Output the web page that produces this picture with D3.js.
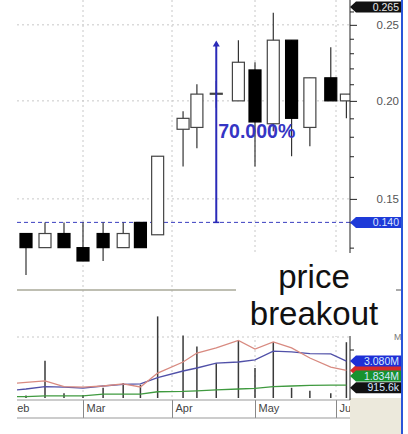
<!DOCTYPE html>
<html>
<head>
<meta charset="utf-8">
<script src="https://cdn.jsdelivr.net/npm/d3@7"></script>
<style>
  body { margin: 0; background: #fff; }
  svg { display: block; font-family: "Liberation Sans", Arial, sans-serif; }
</style>
</head>
<body>
<svg></svg>
<script>
// weekly candles
var candleDates = ['2005-02-08', '2005-02-15', '2005-02-22', '2005-03-01', '2005-03-08', '2005-03-15',
    '2005-03-21', '2005-03-27', '2005-04-05', '2005-04-10', '2005-04-17', '2005-04-25',
    '2005-05-01', '2005-05-08', '2005-05-15', '2005-05-22', '2005-05-30', '2005-06-05'];
var openP  = [0.1355, 0.130, 0.1355, 0.130, 0.1355, 0.130, 0.140, 0.135, 0.184, 0.185, 0.2045, 0.200, 0.219, 0.187, 0.239, 0.185, 0.214, 0.200];
var highP  = [0.1355, 0.140, 0.140, 0.140, 0.140, 0.140, 0.140, 0.170, 0.194, 0.210, 0.212, 0.239, 0.224, 0.259, 0.239, 0.214, 0.234, 0.204];
var lowP   = [0.120, 0.130, 0.130, 0.125, 0.125, 0.130, 0.130, 0.135, 0.165, 0.174, 0.196, 0.200, 0.165, 0.183, 0.170, 0.175, 0.200, 0.190];
var closeP = [0.130, 0.1355, 0.130, 0.125, 0.130, 0.1355, 0.130, 0.170, 0.190, 0.204, 0.2045, 0.224, 0.188, 0.239, 0.190, 0.214, 0.200, 0.204];

// volume in millions
var volume = [0.2, 3.1, 0.4, 0.25, 0.85, 1.25, 1.1, 6.8, 5.2, 4.3, 2.9, 4.75, 2.5, 4.65, 0.85, 0.6, 0.4, 4.65];

// volume averages (start one week before first candle)
var maDates = ['2005-02-01', '2005-02-08', '2005-02-15', '2005-02-22', '2005-03-01', '2005-03-08', '2005-03-15',
    '2005-03-21', '2005-03-27', '2005-04-05', '2005-04-10', '2005-04-17', '2005-04-25',
    '2005-05-01', '2005-05-08', '2005-05-15', '2005-05-22', '2005-05-30', '2005-06-05'];
var maRed   = [1.17, 1.3, 1.42, 0.94, 0.9, 1.0, 1.17, 0.92, 2.08, 3.0, 3.75, 4.17, 4.8, 4.08, 4.67, 4.17, 3.33, 2.58, 2.3];
var maBlue  = [0.6, 0.75, 0.94, 0.9, 0.83, 1.0, 1.14, 1.17, 1.7, 2.25, 2.5, 2.9, 3.0, 3.17, 3.9, 3.85, 3.7, 3.67, 3.08];
var maGreen = [0.1, 0.12, 0.17, 0.17, 0.17, 0.33, 0.33, 0.33, 0.52, 0.55, 0.6, 0.67, 0.75, 0.8, 0.95, 1.0, 1.05, 1.08, 1.08];

var monthDates  = ['2005-02-01', '2005-03-01', '2005-04-01', '2005-05-01', '2005-06-01'];
var monthLabels = ['Feb', 'Mar', 'Apr', 'May', 'Jun'];

var priceMajor = [0.15, 0.20, 0.25];
var priceMinor = [0.13, 0.14, 0.16, 0.17, 0.18, 0.19, 0.21, 0.22, 0.23, 0.24, 0.26];
var lastHigh = 0.265;
var breakoutLevel = 0.140;
var targetLevel = 0.238;
var breakoutDate = '2005-04-17';
var gainText = '70.000%';

// red marker has its text hidden behind the others, so it gets none
var volLabelText  = ['', '915.6k', '1.834M', '3.080M'];
var volLabelValue = [2.30, 0.86, 1.834, 3.08];
var volLabelColor = ['#d42a2a', '#111111', '#17922e', '#1e2fd6'];

var parse = d3.timeParse('%Y-%m-%d');

var svg = d3.select('svg').attr('width', 408).attr('height', 434);
var plotLeft = 17, plotRight = 350;

var x = d3.scaleTime()
    .domain([parse('2005-02-01'), parse('2005-03-01'), parse('2005-04-01'), parse('2005-05-01'), parse('2005-06-01'), parse('2005-07-01')])
    .range([7, 83, 172, 255, 336, 414]);
var y = d3.scaleLog().domain([0.1148, 0.2689]).range([290, 0]);
var yv = d3.scaleLinear().domain([0, 5]).range([398, 338]);

svg.append('rect').attr('width', 408).attr('height', 434).attr('fill', '#fff');

svg.append('clipPath').attr('id', 'plotclip')
    .append('rect').attr('x', plotLeft).attr('y', 0).attr('width', plotRight - plotLeft).attr('height', 434);

var plot = svg.append('g').attr('clip-path', 'url(#plotclip)');

// grid
plot.selectAll('.vgrid')
    .data(monthDates.slice(1))
    .enter().append('line')
    .attr('x1', d => x(parse(d))).attr('x2', d => x(parse(d)))
    .attr('y1', 0).attr('y2', 400)
    .attr('stroke', '#c8c8c8').attr('stroke-dasharray', '2,3');

plot.selectAll('.hgrid')
    .data(priceMajor)
    .enter().append('line')
    .attr('x1', plotLeft).attr('x2', plotRight)
    .attr('y1', d => y(d)).attr('y2', d => y(d))
    .attr('stroke', '#c8c8c8').attr('stroke-dasharray', '2,3');

plot.append('line')
    .attr('x1', plotLeft).attr('x2', plotRight)
    .attr('y1', yv(5) - 1).attr('y2', yv(5) - 1)
    .attr('stroke', '#c8c8c8').attr('stroke-dasharray', '2,3');

// breakout level
plot.append('line')
    .attr('x1', plotLeft).attr('x2', plotRight)
    .attr('y1', y(breakoutLevel)).attr('y2', y(breakoutLevel))
    .attr('stroke', '#3a3ec0').attr('stroke-dasharray', '4,3');

// candles
var candles = candleDates.map((d, i) => ({date: parse(d), o: openP[i], h: highP[i], l: lowP[i], c: closeP[i]}));

plot.selectAll('.wick')
    .data(candles)
    .enter().append('line')
    .attr('x1', d => x(d.date)).attr('x2', d => x(d.date))
    .attr('y1', d => y(d.h)).attr('y2', d => y(d.l))
    .attr('stroke', '#333').attr('stroke-width', 1.2);

plot.selectAll('.body')
    .data(candles)
    .enter().append('rect')
    .attr('x', d => x(d.date) - 6)
    .attr('width', 12)
    .attr('y', d => y(Math.max(d.o, d.c)))
    .attr('height', d => Math.max(1, y(Math.min(d.o, d.c)) - y(Math.max(d.o, d.c))))
    .attr('fill', d => d.c < d.o ? '#000' : '#fff')
    .attr('stroke', d => d.c < d.o ? '#000' : '#444')
    .attr('stroke-width', 1.2);

// 70% arrow
var bx = x(parse(breakoutDate));
plot.append('line')
    .attr('x1', bx).attr('x2', bx)
    .attr('y1', y(breakoutLevel)).attr('y2', y(targetLevel) + 2)
    .attr('stroke', '#2a2ab8').attr('stroke-width', 2);
plot.append('path')
    .attr('d', `M${bx - 3.5},${y(targetLevel) + 5} L${bx},${y(targetLevel) - 1} L${bx + 3.5},${y(targetLevel) + 5} Z`)
    .attr('fill', '#2a2ab8');
plot.append('line')
    .attr('x1', bx - 3).attr('x2', bx + 3)
    .attr('y1', y(breakoutLevel)).attr('y2', y(breakoutLevel))
    .attr('stroke', '#2a2ab8').attr('stroke-width', 1.5);
plot.append('text')
    .attr('x', bx + 2).attr('y', 138)
    .attr('font-size', 19.5).attr('font-weight', 'bold')
    .attr('fill', '#3535c4')
    .text(gainText);

// volume bars
plot.selectAll('.vol')
    .data(candles)
    .enter().append('line')
    .attr('x1', d => x(d.date)).attr('x2', d => x(d.date))
    .attr('y1', yv(0)).attr('y2', (d, i) => yv(volume[i]))
    .attr('stroke', '#3a3a3a').attr('stroke-width', 1.5);

// volume averages
var maLine = d3.line().x((d, i) => x(parse(maDates[i]))).y(d => yv(d));
[[maGreen, '#3f9a3f'], [maBlue, '#5050a8'], [maRed, '#d88a80']].forEach(function (s) {
    plot.append('path')
        .attr('d', maLine(s[0]))
        .attr('fill', 'none')
        .attr('stroke', s[1])
        .attr('stroke-width', 1.3);
});

// panel separator
svg.append('line')
    .attr('x1', plotLeft).attr('x2', 236).attr('y1', 290).attr('y2', 290)
    .attr('stroke', '#a8a898').attr('stroke-width', 1.5);

// date axis
svg.append('rect').attr('x', plotRight).attr('y', 398).attr('width', 52).attr('height', 36).attr('fill', '#ece9dc');
var xAxis = svg.append('g')
    .attr('transform', 'translate(0,400)')
    .attr('clip-path', 'url(#plotclip)')
    .call(d3.axisBottom(x)
        .tickValues(monthDates.map(parse))
        .tickSize(18)
        .tickFormat((d, i) => monthLabels[i]));
xAxis.select('.domain').remove();
xAxis.selectAll('.tick text')
    .attr('x', 3).attr('y', 4).attr('text-anchor', 'start')
    .attr('font-size', 11).attr('fill', '#444');
svg.append('line').attr('x1', plotLeft).attr('x2', plotRight).attr('y1', 400).attr('y2', 400).attr('stroke', '#999');
svg.append('line').attr('x1', plotLeft).attr('x2', plotRight).attr('y1', 418).attr('y2', 418).attr('stroke', '#999');

// price axis
var minorAxis = svg.append('g')
    .attr('transform', `translate(${plotRight},0)`)
    .call(d3.axisRight(y).tickValues(priceMinor).tickSize(4).tickFormat(''));
minorAxis.select('.domain').remove();
var majorAxis = svg.append('g')
    .attr('transform', `translate(${plotRight},0)`)
    .call(d3.axisRight(y).tickValues(priceMajor).tickSize(7).tickFormat(d3.format('.2f')));
majorAxis.select('.domain').attr('d', 'M0,0V400').attr('stroke', '#222');
majorAxis.selectAll('.tick text')
    .attr('x', 49).attr('text-anchor', 'end')
    .attr('font-size', 11.5).attr('fill', '#555');
svg.selectAll('.tick line').attr('stroke', '#222');
xAxis.selectAll('.tick line').attr('stroke', '#888');

// volume axis tick and unit
svg.append('line').attr('x1', plotRight).attr('x2', plotRight + 4).attr('y1', yv(4)).attr('y2', yv(4)).attr('stroke', '#222');
svg.append('text').attr('x', 394).attr('y', 340).attr('font-size', 9).attr('fill', '#777').text('M');
svg.append('line').attr('x1', 396).attr('x2', 402).attr('y1', 290).attr('y2', 290).attr('stroke', '#555');

// value flags
function flag(yc, color, label, textColor) {
    svg.append('path')
        .attr('d', `M${plotRight},${yc} L${plotRight + 6},${yc - 5.5} L402,${yc - 5.5} L402,${yc + 5.5} L${plotRight + 6},${yc + 5.5} Z`)
        .attr('fill', color);
    if (label) {
        svg.append('text')
            .attr('x', 399).attr('y', yc + 3.8)
            .attr('text-anchor', 'end')
            .attr('font-size', 10.5)
            .attr('fill', textColor)
            .text(label);
    }
}
flag(y(lastHigh) + 2, '#111', lastHigh.toFixed(3), '#e8e8e8');
flag(y(breakoutLevel), '#1e3ad8', breakoutLevel.toFixed(3), '#dde4ff');
volLabelText.forEach(function (t, i) {
    flag(yv(volLabelValue[i]), volLabelColor[i], t, '#d8e8ff');
});

// callout text
svg.append('rect').attr('x', 236).attr('y', 253).attr('width', 157).attr('height', 83).attr('fill', '#fff');
svg.append('text').attr('x', 314).attr('y', 288).attr('text-anchor', 'middle')
    .attr('font-size', 33).attr('fill', '#111').text('price');
svg.append('text').attr('x', 314).attr('y', 325).attr('text-anchor', 'middle')
    .attr('font-size', 33).attr('fill', '#111').text('breakout');

// right frame
svg.append('line').attr('x1', 402).attr('x2', 402).attr('y1', 0).attr('y2', 434)
    .attr('stroke', '#2a55d8').attr('stroke-width', 2);
</script>
</body>
</html>
